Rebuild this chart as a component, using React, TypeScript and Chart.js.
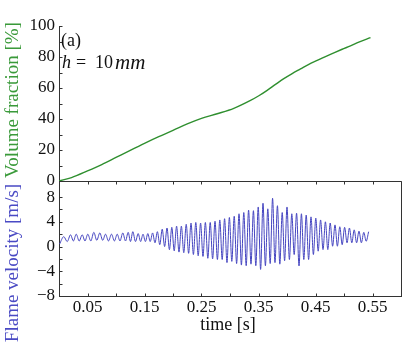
import React, { useEffect, useRef } from "react";
import { Chart, registerables } from "chart.js";

Chart.register(...registerables);

// ---- data ----
const volumeTime = [0, 0.022, 0.05, 0.075, 0.1, 0.125, 0.15, 0.175, 0.2, 0.225, 0.25, 0.2775, 0.3067, 0.336, 0.3506, 0.3652, 0.3798, 0.3944, 0.4091, 0.4237, 0.4383, 0.4529, 0.4675, 0.4822, 0.4968, 0.5114, 0.526, 0.5465];
const volumeValue = [0, 2.2, 6.5, 10.6, 15.2, 19.8, 24.3, 28.6, 32.6, 36.8, 40.4, 43.4, 46.9, 52.0, 55.0, 58.5, 62.3, 66.0, 69.3, 72.3, 75.3, 77.8, 80.3, 82.7, 85.0, 87.2, 89.6, 92.5];

// flame velocity: successive extrema (peak / trough) of the oscillation
const velocityTime = [
  0.001,
  0.0084, 0.0144, 0.0202, 0.0253, 0.0302, 0.0354, 0.0407, 0.0456, 0.0505, 0.0558, 0.0611, 0.0663, 0.0716, 0.0767, 0.0816, 0.0868, 0.0921, 0.0972, 0.1021, 0.1070, 0.1119, 0.1167, 0.1214, 0.1254, 0.1295, 0.1342,
  0.1389, 0.1432, 0.1474, 0.1516, 0.1558, 0.1600, 0.1642, 0.1684, 0.1726, 0.1768,
  0.1811, 0.1853, 0.1895, 0.1937, 0.1979, 0.2021, 0.2063, 0.2105, 0.2147, 0.2189,
  0.2232, 0.2274, 0.2316, 0.2358, 0.2400, 0.2442, 0.2484, 0.2526, 0.2568, 0.2611,
  0.2653, 0.2695, 0.2737, 0.2779, 0.2821, 0.2863, 0.2905, 0.2947, 0.2989, 0.3032,
  0.3074, 0.3116, 0.3158, 0.3200, 0.3242, 0.3284, 0.3326, 0.3368, 0.3411, 0.3453,
  0.3495, 0.3537, 0.3579, 0.3621, 0.3663, 0.3705, 0.3747, 0.3789, 0.3832, 0.3874,
  0.3916, 0.3958, 0.4000, 0.4042, 0.4084, 0.4126, 0.4168, 0.4211, 0.4253, 0.4295,
  0.4337, 0.4379, 0.4421, 0.4463, 0.4505, 0.4547, 0.4589, 0.4632, 0.4674, 0.4716,
  0.4758, 0.4800, 0.4842, 0.4884, 0.4926, 0.4968, 0.5011, 0.5053, 0.5095, 0.5137,
  0.5179, 0.5221, 0.5263, 0.5305, 0.5347, 0.5389, 0.5432,
];
const velocityValue = [
  0.4,
  1.6, 0.8, 1.9, 0.9, 2.0, 0.9, 1.9, 0.9, 2.0, 0.9, 2.3, 1.0, 2.2, 1.0, 2.0, 0.9, 2.0, 0.9, 2.0, 0.9, 2.2, 0.9, 2.3, 0.8, 2.4, 0.8,
  2.1, 0.8, 2.0, 0.8, 2.1, 0.8, 2.2, 0.6, 2.4, 0.3,
  2.8, 0.0, 3.0, -0.5, 3.1, -0.7, 3.3, -0.9, 3.3, -1.0,
  3.6, -1.1, 3.8, -1.3, 3.9, -1.5, 3.8, -1.6, 3.9, -1.9,
  3.9, -2.0, 4.1, -2.1, 4.3, -2.1, 4.5, -2.6, 4.7, -2.4,
  4.9, -2.75, 5.3, -3.0, 5.5, -3.1, 5.9, -2.85, 5.8, -3.1,
  6.4, -3.7, 7.0, -3.1, 6.1, -2.75, 7.8, -2.6, 6.6, -2.85,
  5.5, -2.3, 6.4, -2.1, 5.3, -1.3, 5.4, -3.15, 5.3, -2.1,
  5.1, -2.1, 4.8, -1.3, 4.6, -0.75, 4.3, -0.5, 4.0, -0.5,
  3.8, 0.05, 3.5, 0.05, 3.2, 0.3, 3.1, 0.6, 3.0, 0.6,
  2.7, 0.6, 2.5, 0.6, 2.3, 0.85, 2.4,
];

const timeRange = [0, 0.6];
const volumeRange = [0, 100];
const velocityRange = [-8, 10.6];
const velocityLabelled = [-8, -4, 0, 4, 8];

const GREEN = "#2f8f2f";
const GREEN_TEXT = "#3a9a3a";
const BLUE = "#4545c0";
const BLUE_TEXT = "#4a4ac4";
const AXIS = "#333333";
const FONT = "'Liberation Serif', 'Times New Roman', serif";

const fmtNum = (v: number) => (v < 0 ? "\u2212" + String(Math.abs(v)) : String(v));

const framePlugin = {
  id: "frame",
  afterDraw(chart: any) {
    const { ctx, chartArea } = chart;
    const sx = chart.scales.x;
    const yf = chart.scales.yf;
    const yv = chart.scales.yv;
    const al = (v: number) => Math.round(v) + 0.5;
    ctx.save();
    ctx.strokeStyle = AXIS;
    ctx.lineWidth = 1;
    const sepY = al(yf.bottom);
    const left = al(chartArea.left);
    const right = al(chartArea.right);
    const bottom = al(chartArea.bottom);
    ctx.beginPath();
    ctx.moveTo(left, sepY);
    ctx.lineTo(right, sepY);
    ctx.moveTo(right, sepY);
    ctx.lineTo(right, bottom);
    const TL = 3;
    sx.ticks.forEach((t: any) => {
      const px = al(sx.getPixelForValue(t.value));
      ctx.moveTo(px, sepY);
      ctx.lineTo(px, sepY + TL);
      ctx.moveTo(px, bottom);
      ctx.lineTo(px, bottom - TL);
    });
    yf.ticks.forEach((t: any) => {
      const py = al(yf.getPixelForValue(t.value));
      ctx.moveTo(left, py);
      ctx.lineTo(left + TL, py);
    });
    yv.ticks.forEach((t: any) => {
      const v = Math.round(t.value * 100) / 100;
      if (v % 2 !== 0 || v < -8 || v > 8) return;
      const py = al(yv.getPixelForValue(v));
      ctx.moveTo(left, py);
      ctx.lineTo(left + TL, py);
    });
    ctx.stroke();

    // axis titles
    ctx.textBaseline = "middle";
    ctx.textAlign = "center";
    ctx.font = `19px ${FONT}`;
    ctx.save();
    ctx.translate(13, 100);
    ctx.rotate(-Math.PI / 2);
    ctx.fillStyle = GREEN_TEXT;
    ctx.fillText("Volume fraction [%]", 0, 0);
    ctx.restore();
    ctx.save();
    ctx.translate(13, 263);
    ctx.rotate(-Math.PI / 2);
    ctx.fillStyle = BLUE_TEXT;
    ctx.fillText("Flame velocity [m/s]", 0, 0);
    ctx.restore();
    ctx.fillStyle = "#111";
    ctx.font = `18px ${FONT}`;
    ctx.fillText("time [s]", 228, 325);

    // annotations
    ctx.textAlign = "left";
    ctx.font = `18px ${FONT}`;
    ctx.fillText("(a)", 61, 41);
    const y = 63;
    const parts: [string, string, number, number][] = [
      ["h", "italic", 62, 18],
      ["=", "normal", 76, 18],
      ["10", "normal", 95, 18],
      ["mm", "italic", 115, 21],
    ];
    parts.forEach(([s, st, x, sz]) => {
      ctx.font = `${st} ${sz}px ${FONT}`;
      ctx.fillText(s, x, y);
    });
    ctx.restore();
  },
};

export default function App() {
  const ref = useRef<HTMLCanvasElement>(null);
  useEffect(() => {
    const canvas = ref.current;
    if (!canvas) return;
    const tickFont = { family: FONT, size: 17 };
    const chart = new Chart(canvas, {
      type: "line",
      data: {
        datasets: [
          {
            label: "Volume fraction",
            data: volumeTime.map((t, i) => ({ x: t, y: volumeValue[i] })),
            xAxisID: "x",
            yAxisID: "yf",
            borderColor: GREEN,
            borderWidth: 1.4,
            pointRadius: 0,
            fill: false,
            cubicInterpolationMode: "monotone",
          },
          {
            label: "Flame velocity",
            data: velocityTime.map((t, i) => ({ x: t, y: velocityValue[i] })),
            xAxisID: "x",
            yAxisID: "yv",
            borderColor: BLUE,
            borderWidth: 1,
            pointRadius: 0,
            fill: false,
            cubicInterpolationMode: "monotone",
          },
        ],
      },
      options: {
        responsive: false,
        animation: false,
        devicePixelRatio: 1,
        layout: { padding: { top: 26, right: 10, left: 0, bottom: 0 } },
        plugins: { legend: { display: false }, tooltip: { enabled: false } },
        scales: {
          x: {
            type: "linear",
            position: "bottom",
            min: timeRange[0],
            max: timeRange[1],
            grid: { display: false, drawTicks: false },
            border: { display: true, color: AXIS },
            ticks: {
              stepSize: 0.05,
              autoSkip: false,
              maxRotation: 0,
              padding: 1,
              color: "#111",
              font: tickFont,
              callback: (v: any) => {
                const k = Math.round(Number(v) * 100);
                return k % 10 === 5 ? (k / 100).toFixed(2) : "";
              },
            },
            afterFit: (s: any) => {
              s.height = 47;
            },
          },
          yv: {
            type: "linear",
            position: "left",
            stack: "panels",
            stackWeight: 115,
            weight: 1,
            min: velocityRange[0],
            max: velocityRange[1],
            grid: { display: false, drawTicks: false },
            border: { display: true, color: AXIS },
            ticks: {
              stepSize: 2,
              autoSkip: false,
              padding: 4,
              color: "#111",
              font: tickFont,
              callback: (v: any) => {
                const n = Math.round(Number(v) * 100) / 100;
                return velocityLabelled.includes(n) ? fmtNum(n) : "";
              },
            },
            afterFit: (s: any) => {
              s.width = 59;
            },
          },
          yf: {
            type: "linear",
            position: "left",
            stack: "panels",
            stackWeight: 155,
            weight: 2,
            min: volumeRange[0],
            max: volumeRange[1],
            grid: { display: false, drawTicks: false },
            border: { display: true, color: AXIS },
            ticks: {
              stepSize: 10,
              autoSkip: false,
              padding: 4,
              color: "#111",
              font: tickFont,
              callback: (v: any) => {
                const n = Math.round(Number(v));
                return n % 20 === 0 ? String(n) : "";
              },
            },
            afterFit: (s: any) => {
              s.width = 59;
            },
          },
        },
      } as any,
      plugins: [framePlugin],
    });
    return () => chart.destroy();
  }, []);
  return (
    <div style={{ position: "fixed", left: 0, top: 0, width: 411, height: 343, background: "#fff" }}>
      <canvas ref={ref} width={411} height={343} style={{ width: 411, height: 343, display: "block" }} />
    </div>
  );
}
